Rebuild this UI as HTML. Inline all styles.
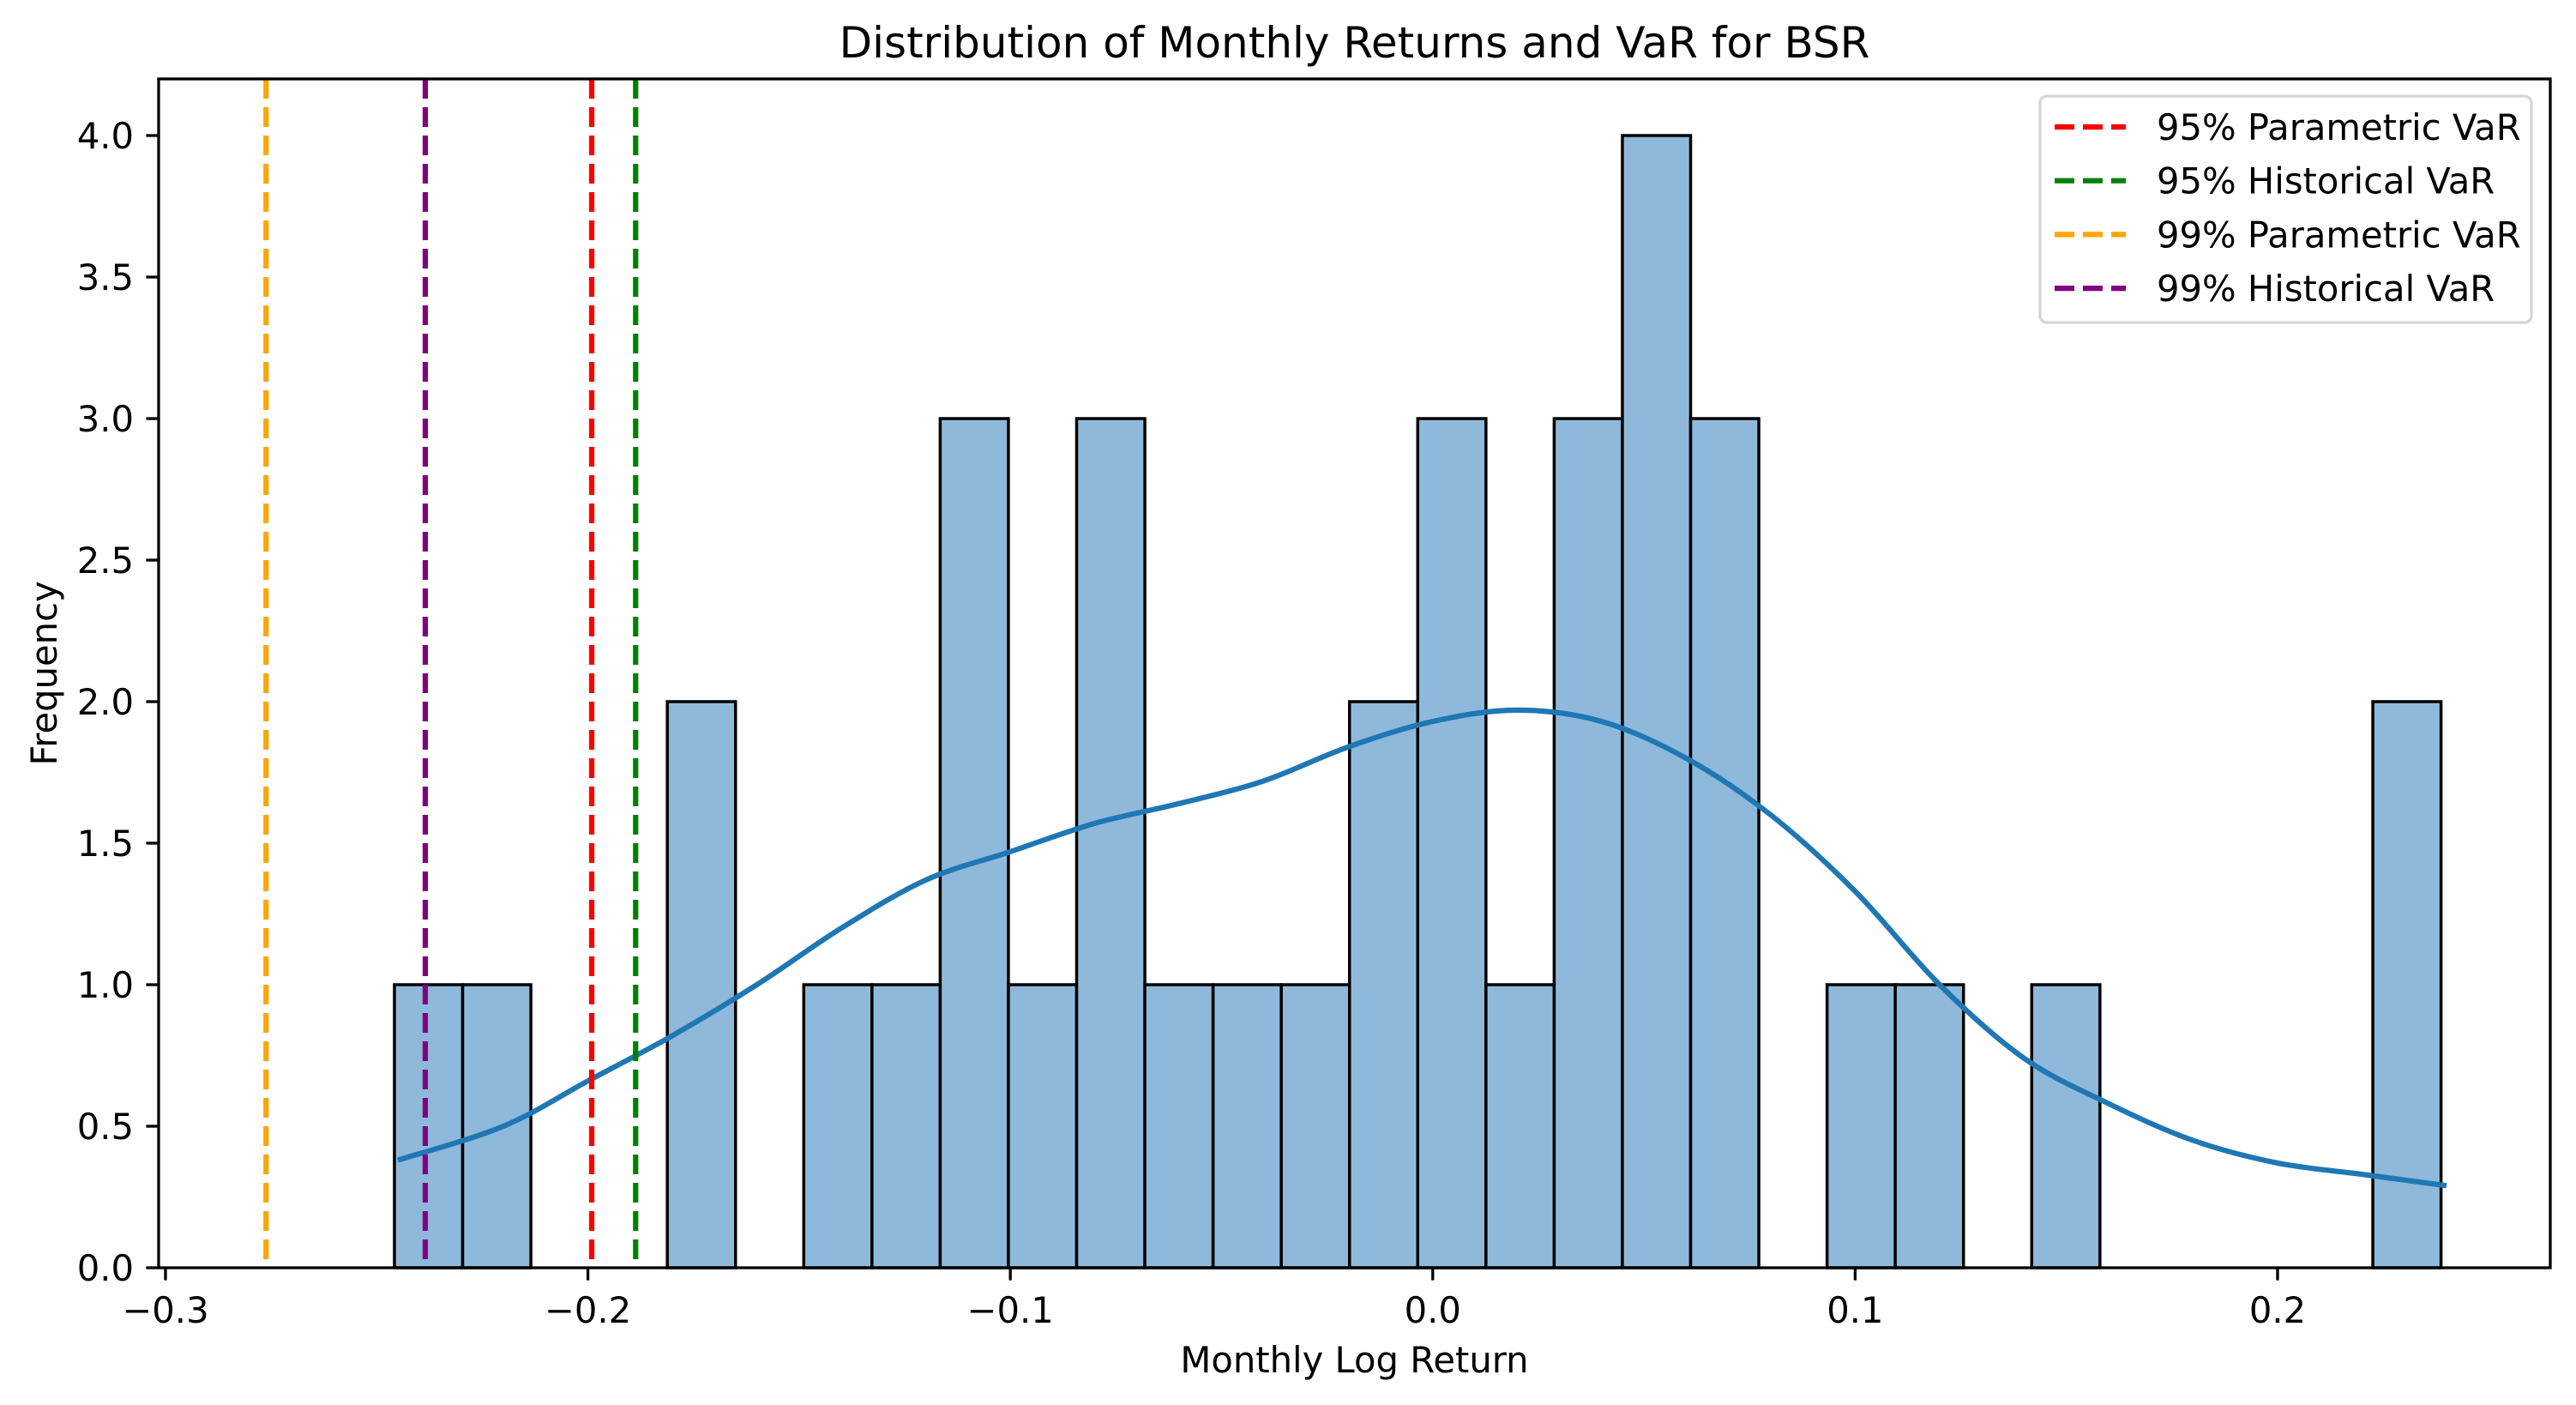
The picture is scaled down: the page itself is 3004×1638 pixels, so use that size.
<!DOCTYPE html>
<html><head><meta charset="utf-8"><style>
html,body{margin:0;padding:0;background:#fff;}
svg{display:block;font-family:"DejaVu Sans","Liberation Sans",sans-serif;}
</style></head><body>
<svg id="chart" width="3004" height="1638" viewBox="0 0 3004 1638" xmlns="http://www.w3.org/2000/svg">
<rect x="0" y="0" width="3004" height="1638" fill="#fff"/>
<g id="plot"></g>
</svg>
<script>
const binStart = -0.2458;
const binWidth = 0.01615;
const counts = [1,1,0,0,2,0,1,1,3,1,3,1,1,1,2,3,1,3,4,3,0,1,1,0,1,0,0,0,0,2];
const kdeX = [-0.245,-0.22,-0.2,-0.18,-0.16,-0.14,-0.12,-0.1,-0.08,-0.06,-0.04,-0.02,0.0,0.02,0.04,0.06,0.08,0.1,0.12,0.14,0.16,0.18,0.2,0.22,0.24];
const kdeY = [0.38,0.5,0.66,0.82,1.0,1.2,1.37,1.47,1.57,1.64,1.72,1.84,1.93,1.97,1.93,1.8,1.6,1.33,1.0,0.74,0.58,0.45,0.37,0.33,0.29];
const varNames = ["95% Parametric VaR","95% Historical VaR","99% Parametric VaR","99% Historical VaR"];
const varValues = [-0.1991,-0.1887,-0.2762,-0.2385];
const varColors = ["red","green","orange","purple"];
const xTicks = [-0.3,-0.2,-0.1,0.0,0.1,0.2];
const xTickLabels = ["\u22120.3","\u22120.2","\u22120.1","0.0","0.1","0.2"];
const yTicks = [0,0.5,1,1.5,2,2.5,3,3.5,4];
const yTickLabels = ["0.0","0.5","1.0","1.5","2.0","2.5","3.0","3.5","4.0"];

const L=185,R=2974,T=92,B=1478;
const xMin=-0.30162,xMax=0.26456,yMin=0,yMax=4.2;
const X=v=>L+(v-xMin)/(xMax-xMin)*(R-L);
const Y=v=>B-(v-yMin)/(yMax-yMin)*(B-T);
const NS="http://www.w3.org/2000/svg";
const g=document.getElementById('plot');
function mk(tag,attrs,parent){const e=document.createElementNS(NS,tag);for(const k in attrs)e.setAttribute(k,attrs[k]);(parent||g).appendChild(e);return e;}

const bars=mk('g',{});


counts.forEach((c,i)=>{
  if(c<=0)return;
  const x0=X(binStart+i*binWidth),x1=X(binStart+(i+1)*binWidth);
  const r=mk('rect',{x:x0,y:Y(c),width:x1-x0,height:Y(0)-Y(c),fill:'#8fb9da',stroke:'#000','stroke-width':3.5},bars);
  
  
});

const pts=kdeX.map((v,i)=>[X(v),Y(kdeY[i])]);
let d='M'+pts[0][0].toFixed(1)+','+pts[0][1].toFixed(1);
for(let i=0;i<pts.length-1;i++){
  const p0=pts[Math.max(0,i-1)],p1=pts[i],p2=pts[i+1],p3=pts[Math.min(pts.length-1,i+2)];
  const c1=[p1[0]+(p2[0]-p0[0])/6,p1[1]+(p2[1]-p0[1])/6];
  const c2=[p2[0]-(p3[0]-p1[0])/6,p2[1]-(p3[1]-p1[1])/6];
  d+='C'+c1[0].toFixed(1)+','+c1[1].toFixed(1)+' '+c2[0].toFixed(1)+','+c2[1].toFixed(1)+' '+p2[0].toFixed(1)+','+p2[1].toFixed(1);
}
const kde=mk('path',{d:d,fill:'none',stroke:'#1f77b4','stroke-width':6.2,'stroke-linejoin':'round'});



varValues.forEach((v,i)=>{
  const ln=mk('line',{x1:X(v),x2:X(v),y1:T,y2:B,stroke:varColors[i],'stroke-width':6.2,'stroke-dasharray':'23 10'});
  
  
});

const frame=mk('rect',{x:L,y:T,width:R-L,height:B-T,fill:'none',stroke:'#000','stroke-width':3.3});



xTicks.forEach((v,i)=>{
  const t=mk('line',{x1:X(v),x2:X(v),y1:B,y2:B+14.6,stroke:'#000','stroke-width':3.3});
  
  
  const tx=mk('text',{x:X(v),y:1542,'font-size':41.7,'text-anchor':'middle',fill:'#000'});
  tx.textContent=xTickLabels[i];
  
  
});
yTicks.forEach((v,i)=>{
  const t=mk('line',{x1:L-14.6,x2:L,y1:Y(v),y2:Y(v),stroke:'#000','stroke-width':3.3});
  
  
  const tx=mk('text',{x:L-29,y:Y(v)+15,'font-size':41.7,'text-anchor':'end',fill:'#000'});
  tx.textContent=yTickLabels[i];
  
  
});

const title=mk('text',{x:(L+R)/2,y:67,'font-size':50,'text-anchor':'middle',fill:'#000'});
title.textContent='Distribution of Monthly Returns and VaR for BSR';


const xl=mk('text',{x:(L+R)/2,y:1600,'font-size':41.7,'text-anchor':'middle',fill:'#000'});
xl.textContent='Monthly Log Return';


const yl=mk('text',{x:0,y:0,'font-size':41.7,'text-anchor':'middle',fill:'#000',transform:'translate(66,'+((T+B)/2)+') rotate(-90)'});
yl.textContent='Frequency';



const leg=mk('g',{});


const lb=mk('rect',{x:2379,y:112,width:573,height:264,rx:8,fill:'#fff','fill-opacity':0.8,stroke:'#d6d6d6','stroke-width':3.3},leg);


varNames.forEach((n,i)=>{
  const cy=148+i*62.7;
  const ll=mk('line',{x1:2396,x2:2479,y1:cy,y2:cy,stroke:varColors[i],'stroke-width':6.2,'stroke-dasharray':'23 10'},leg);
  
  
  const lt=mk('text',{x:2515,y:cy+15,'font-size':41.7,fill:'#000'},leg);
  lt.textContent=n;
  
  
});
</script>
</body></html>
